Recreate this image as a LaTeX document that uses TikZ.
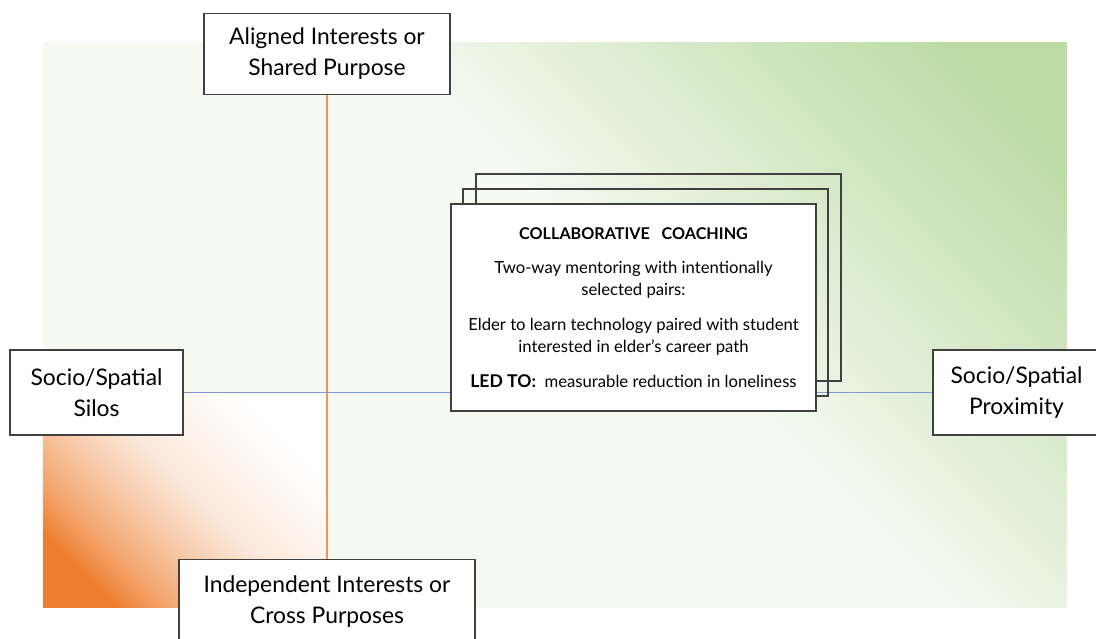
\documentclass[tikz,border=0pt]{standalone}
\usepackage{fontspec}
\setmainfont{Lato}
\usetikzlibrary{positioning,calc}
\definecolor{pale}{RGB}{245,249,241}
\definecolor{leaf}{RGB}{188,219,165}
\definecolor{ember}{RGB}{238,125,45}
\definecolor{apricot}{RGB}{242,163,107}
\definecolor{peach}{RGB}{247,202,168}
\definecolor{blush}{RGB}{251,232,218}
\definecolor{rust}{RGB}{236,150,100}
\definecolor{steel}{RGB}{125,152,212}
% corner washes for the two quadrants
\pgfdeclarehorizontalshading{greenfield}{100bp}{color(0bp)=(pale); color(55bp)=(pale); color(80bp)=(leaf); color(100bp)=(leaf)}
\pgfdeclarehorizontalshading{orangefield}{100bp}{color(0bp)=(ember); color(25bp)=(ember); color(32bp)=(apricot); color(42bp)=(peach); color(52bp)=(blush); color(72bp)=(white); color(100bp)=(white)}

\begin{document}
\begin{tikzpicture}[x=0.02cm, y=-0.02cm, every node/.style={align=center},
    axis box/.style={draw=black!75, line width=0.7pt, fill=white, inner sep=0pt,
      font=\fontsize{13}{17.6}\selectfont},
    sheet/.style={draw=black!75, line width=0.7pt, minimum width=7.3cm, minimum height=4.14cm, inner sep=0pt}]
  \useasboundingbox (0,0) rectangle (1096,639);
  \shade[shading=greenfield, shading angle=45] (43,42) rectangle (1067,607);
  \shade[shading=orangefield, shading angle=45] (43,393) rectangle (327,607);

  \node[axis box, minimum width=4.92cm, minimum height=1.62cm] (aligned) at (327,54) {Aligned Interests or\\Shared Purpose};
  \node[axis box, minimum width=5.92cm, minimum height=1.7cm] (independent) at (327,602) {Independent Interests or\\Cross Purposes};
  \node[axis box, minimum width=3.46cm, minimum height=1.7cm] (silos) at (96.5,392.5) {Socio/Spatial\\Silos};
  \node[axis box, minimum width=3.34cm, minimum height=1.7cm] (proximity) at (1016.5,392.5) {Socio/Spatial\\Proximity};

  \draw[rust, line width=0.6pt] (aligned) -- (independent);
  \draw[steel, line width=0.6pt] (silos) -- (proximity);

  % stack of cards, front one carries the text
  \node[sheet] (coach) at (633.5,307.5) {};
  \node[sheet] (back) at ($(coach)+(25,-30)$) {};
  \node[sheet] (middle) at ($(coach)+(12,-15)$) {};
  \node[sheet, fill=white, font=\fontsize{9.5}{12.5}\selectfont] at (coach) {%
    {\bfseries\fontsize{9.2}{12.5}\selectfont COLLABORATIVE \ \ COACHING}\\[7pt]
    Two-way mentoring with intentionally\\selected pairs:\\[7.5pt]
    Elder to learn technology paired with student\\interested in elder’s career path\\[7.5pt]
    {\bfseries\fontsize{10}{12.5}\selectfont LED TO:}\ \ measurable reduction in loneliness};
\end{tikzpicture}
\end{document}
